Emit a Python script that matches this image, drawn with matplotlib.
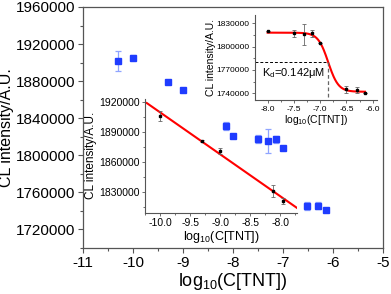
import numpy as np
import matplotlib.pyplot as plt
from matplotlib.ticker import MultipleLocator

plt.rcParams['font.family'] = ['Liberation Sans', 'DejaVu Sans']
plt.rcParams['axes.unicode_minus'] = False
plt.rcParams['mathtext.fontset'] = 'custom'
plt.rcParams['mathtext.rm'] = 'Liberation Sans'
plt.rcParams['mathtext.default'] = 'regular'

# main panel (blue squares)
main_x = [-10.3, -10.0, -9.3, -9.0, -8.15, -8.0, -7.5, -7.3, -7.15, -7.0, -6.52, -6.3, -6.15]
main_y = [1901700, 1905300, 1879400, 1870100, 1831600, 1820500, 1817600,
          1815700, 1817200, 1807900, 1745300, 1745600, 1741000]
main_err = [11000, 3000, 0, 0, 4000, 0, 4000, 13000, 4000, 0, 4000, 4000, 0]

# top-right inset (binding curve)
sig_x = [-8.0, -7.5, -7.3, -7.15, -7.0, -6.5, -6.3, -6.15]
sig_y = [1820500, 1817000, 1815700, 1817000, 1805000, 1745000, 1744700, 1740300]
sig_err = [0, 4000, 13000, 4000, 0, 4000, 4000, 0]
sig_top, sig_bottom, log_kd, hill = 1818000, 1742000, np.log10(0.142e-6), 4.5

# middle inset (linear range)
lin_x = [-10.0, -9.3, -9.0, -8.12, -7.96]
lin_y = [1906600, 1880700, 1870700, 1830400, 1820400]
lin_err = [5000, 1000, 3000, 6000, 3000]
lin_slope, lin_icpt = -42280, 1919400 - 42280 * 10.22  # y = slope*x + icpt

blue = '#1f3cff'
spine_c = '#555555'

fig = plt.figure(figsize=(3.91, 2.94), dpi=100)

ax = fig.add_axes([83/391, 1 - 248/294, 300/391, 241/294])
ax.errorbar(main_x, main_y, yerr=main_err, fmt='s', color=blue, ms=4.5,
            ecolor='#8fa4ff', elinewidth=0.9, capsize=2, capthick=0.9, zorder=3)
ax.set_xlim(-11, -5)
ax.set_ylim(1700000, 1960000)
ax.xaxis.set_major_locator(MultipleLocator(1))
ax.xaxis.set_minor_locator(MultipleLocator(0.5))
ax.yaxis.set_major_locator(MultipleLocator(40000))
ax.yaxis.set_minor_locator(MultipleLocator(20000))
ax.xaxis.set_major_formatter('{x:.0f}')
ax.yaxis.set_major_formatter('{x:.0f}')
ax.tick_params(which='major', direction='out', length=3.5, width=0.8, color=spine_c, labelsize=11, pad=2)
ax.tick_params(which='minor', direction='out', length=2, width=0.8, color=spine_c)
for s in ax.spines.values():
    s.set_color(spine_c)
    s.set_linewidth(0.9)
ax.set_xlabel('log$_{10}$(C[TNT])', fontsize=13, labelpad=1)
ax.set_ylabel('CL intensity/A.U.', fontsize=11.5, labelpad=1)


def style_inset(a, tick_fs, label_fs):
    a.patch.set_alpha(0)
    a.spines['top'].set_visible(False)
    a.spines['right'].set_visible(False)
    for s in ('left', 'bottom'):
        a.spines[s].set_color(spine_c)
        a.spines[s].set_linewidth(0.8)
    a.xaxis.set_major_locator(MultipleLocator(0.5))
    a.xaxis.set_minor_locator(MultipleLocator(0.25))
    a.yaxis.set_major_locator(MultipleLocator(30000))
    a.yaxis.set_minor_locator(MultipleLocator(15000))
    a.xaxis.set_major_formatter('{x:.1f}')
    a.yaxis.set_major_formatter('{x:.0f}')
    a.tick_params(which='major', direction='out', length=2.5, width=0.6, color=spine_c,
                  labelsize=tick_fs, pad=1.5)
    a.tick_params(which='minor', direction='out', length=1.5, width=0.6, color=spine_c)
    a.set_xlabel('log$_{10}$(C[TNT])', fontsize=label_fs, labelpad=0.5)
    a.set_ylabel('CL intensity/A.U.', fontsize=label_fs, labelpad=0.5)


# inset 1
ax1 = fig.add_axes([255/391, 1 - 100/294, 122/391, 85/294])
xs = np.linspace(-8.0, -6.15, 200)
ax1.plot(xs, sig_bottom + (sig_top - sig_bottom) / (1 + 10 ** ((xs - log_kd) * hill)),
         color='red', lw=1.5, zorder=2)
ax1.errorbar(sig_x, sig_y, yerr=sig_err, fmt='s', color='black', ms=1.5,
             ecolor='#666666', elinewidth=0.6, capsize=1.5, capthick=0.6, zorder=3)
ax1.set_xlim(-8.24, -5.92)
ax1.set_ylim(1731400, 1840700)
half = (sig_top + sig_bottom) / 2
ax1.plot([-8.24, log_kd], [half, half], 'k--', lw=0.7, dashes=(3, 2))
ax1.plot([log_kd, log_kd], [half, 1731400], '--', color='#666666', lw=0.9, dashes=(3, 2))
ax1.text(-8.1, 1766000, 'K$_d$=0.142μM', fontsize=8, va='center')
style_inset(ax1, 6, 7.5)

# inset 2
ax2 = fig.add_axes([145/391, 1 - 212.7/294, 152/391, 113.7/294])
xl = np.array([-10.22, -7.72])
ax2.plot(xl, lin_slope * xl + lin_icpt, color='red', lw=1.5, zorder=2)
ax2.errorbar(lin_x, lin_y, yerr=lin_err, fmt='s', color='black', ms=1.5,
             ecolor='#666666', elinewidth=0.6, capsize=1.5, capthick=0.6, zorder=3)
ax2.set_xlim(-10.25, -7.72)
ax2.set_ylim(1808900, 1923500)
style_inset(ax2, 7.5, 9)
ax2.set_ylabel('CL intensity/A.U.', fontsize=8.5, labelpad=1)

fig.savefig('out.png', dpi=100)
